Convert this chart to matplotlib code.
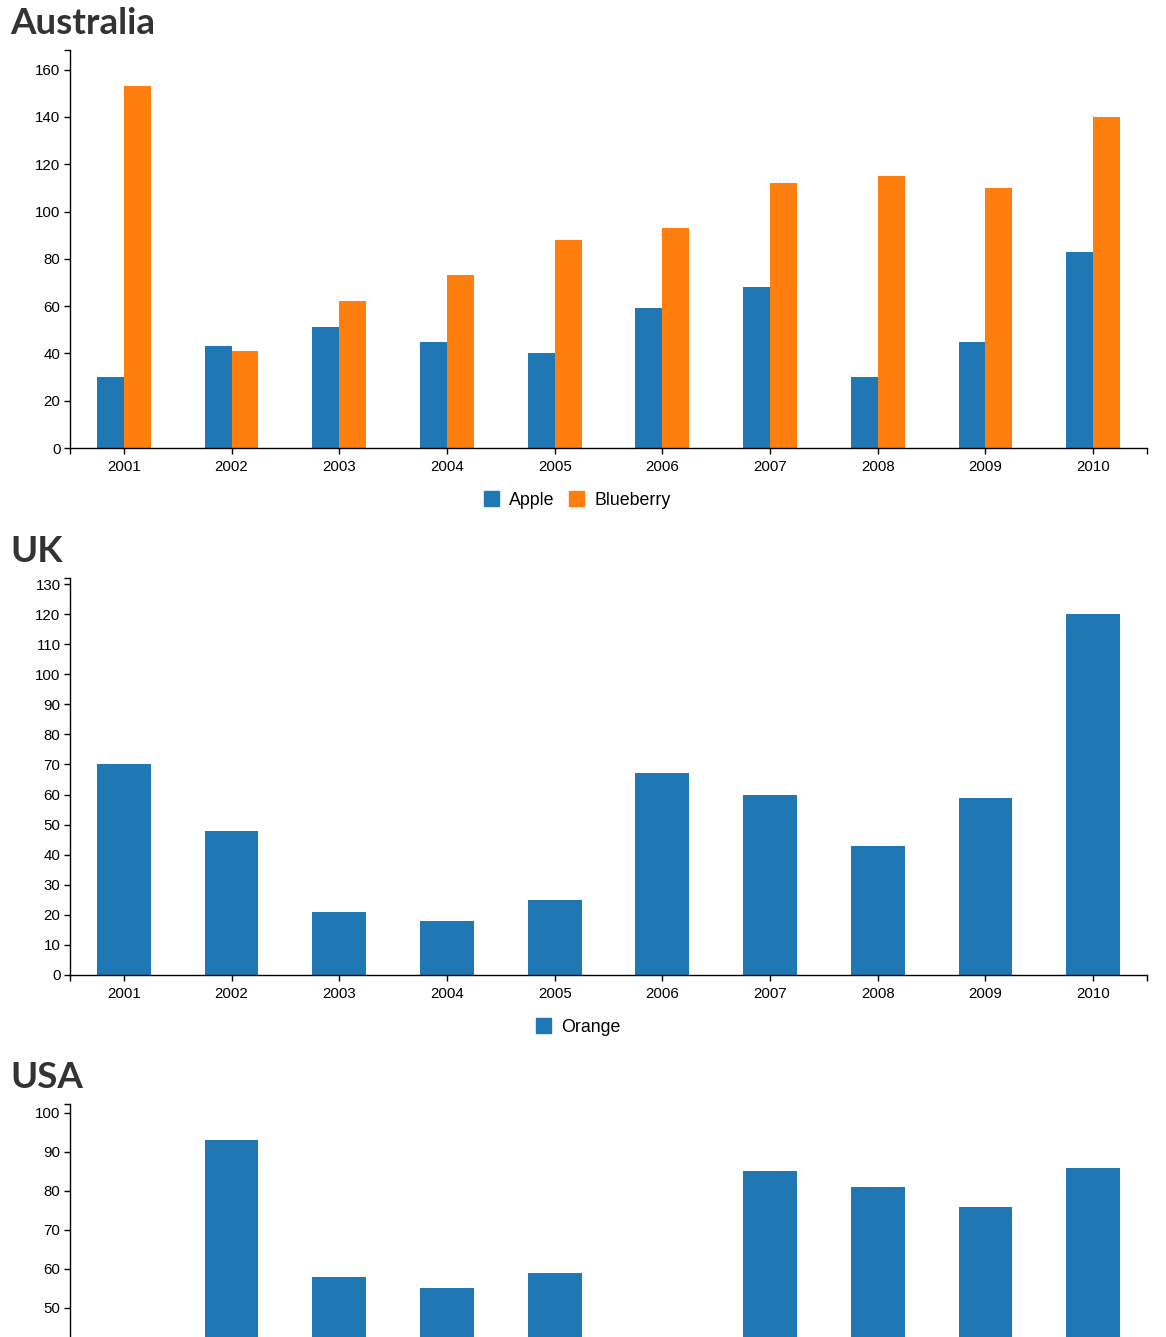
import matplotlib
matplotlib.use("Agg")
import matplotlib.pyplot as plt
from matplotlib.patches import Patch
import numpy as np

years = ["2001", "2002", "2003", "2004", "2005", "2006", "2007", "2008", "2009", "2010"]
aus_apple = [30, 43, 51, 45, 40, 59, 68, 30, 45, 83]
aus_blueberry = [153, 41, 62, 73, 88, 93, 112, 115, 110, 140]
uk_orange = [70, 48, 21, 18, 25, 67, 60, 43, 59, 120]
usa_orange = [30, 93, 58, 55, 59, 40, 85, 81, 76, 86]

BLUE = "#1f77b4"
ORANGE = "#ff7f0e"

W, H = 1166, 1337
fig = plt.figure(figsize=(W / 100, H / 100), dpi=100)
plt.rcParams['font.family'] = ['Liberation Sans', 'DejaVu Sans']

left = 70 / W
width = 1077 / W

def make_ax(top_px, bottom_px):
    return fig.add_axes([left, (H - bottom_px) / H, width, (bottom_px - top_px) / H])

def style_ax(ax, ymax, ystep, ymin_tick=0, xlabels=True):
    x = np.arange(len(years))
    ax.set_xlim(-0.5, len(years) - 0.5)
    ax.set_ylim(0, ymax)
    ax.set_xticks(x)
    ax.set_xticklabels(years)
    ax.set_yticks(np.arange(ymin_tick, ymax, ystep))
    ax.set_xticks([-0.5, len(years) - 0.5], minor=True)
    ax.set_yticks([ymax], minor=True)
    for s in ["top", "right"]:
        ax.spines[s].set_visible(False)
    for s in ["left", "bottom"]:
        ax.spines[s].set_linewidth(1.0)
        ax.spines[s].set_color("black")
    ax.tick_params(which="both", length=4.3, width=1.0, color="black",
                   labelsize=10.8, pad=2.5, labelcolor="black")
    ax.tick_params(axis="x", which="major", pad=4.5, labelbottom=xlabels)

def title(text, baseline_px):
    fig.text(10 / W, (H - baseline_px) / H, text, fontsize=26.5, fontweight="bold",
             family=["Lato", "DejaVu Sans"], color="#333333", va="baseline", ha="left")

x = np.arange(len(years))

# Australia
ax1 = make_ax(50, 448)
ax1.bar(x - 0.125, aus_apple, width=0.25, color=BLUE)
ax1.bar(x + 0.125, aus_blueberry, width=0.25, color=ORANGE)
style_ax(ax1, max(aus_apple + aus_blueberry) * 1.1, 20)
title("Australia", 34)
fig.legend(handles=[Patch(color=BLUE, label="Apple"), Patch(color=ORANGE, label="Blueberry")],
           loc="center", bbox_to_anchor=(577 / W, (H - 500) / H), ncol=2, frameon=False,
           fontsize=12.8, handlelength=0.85, handleheight=0.85, handletextpad=0.55,
           columnspacing=0.85, borderpad=0)

# UK
ax2 = make_ax(578, 975)
ax2.bar(x, uk_orange, width=0.5, color=BLUE)
style_ax(ax2, max(uk_orange) * 1.1, 10)
title("UK", 562)
fig.legend(handles=[Patch(color=BLUE, label="Orange")],
           loc="center", bbox_to_anchor=(578 / W, (H - 1027) / H), ncol=1, frameon=False,
           fontsize=12.8, handlelength=0.85, handleheight=0.85, handletextpad=0.55,
           borderpad=0)

# USA (cut off at the bottom edge like the reference)
ax3 = make_ax(1104, 1503)
ax3.bar(x, usa_orange, width=0.5, color=BLUE)
style_ax(ax3, max(usa_orange) * 1.1, 10, ymin_tick=50, xlabels=False)
title("USA", 1088)

fig.savefig("out.png", dpi=100)
